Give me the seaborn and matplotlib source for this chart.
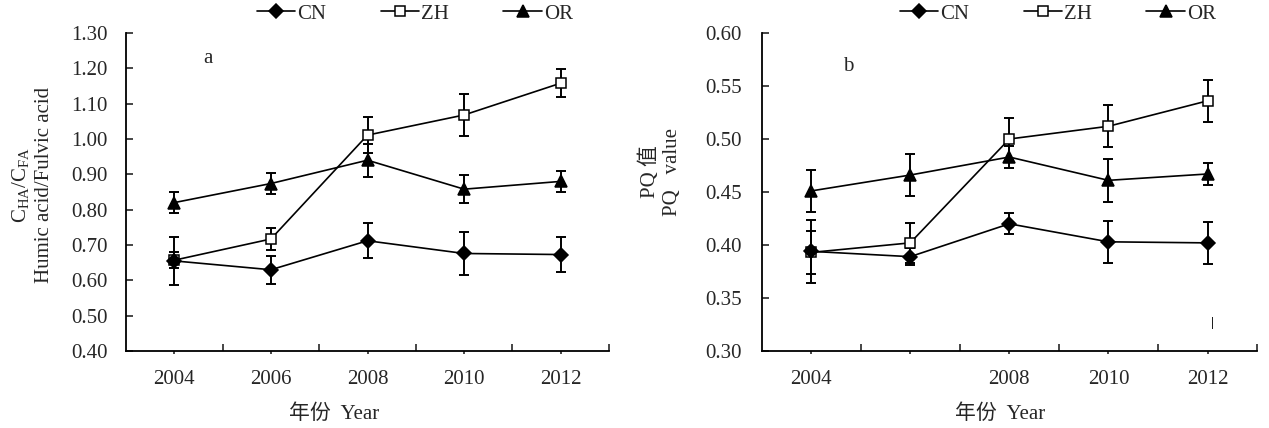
import matplotlib
matplotlib.use("Agg")
import matplotlib.pyplot as plt
import seaborn as sns
from matplotlib.ticker import FixedLocator, FormatStrFormatter

years = [2004, 2006, 2008, 2010, 2012]
series = ["CN", "ZH", "OR"]

# panel a: C_HA/C_FA
ratio_cn = [0.655, 0.630, 0.712, 0.676, 0.673]
ratio_cn_err = [0.068, 0.040, 0.050, 0.060, 0.050]
ratio_zh = [0.657, 0.717, 1.011, 1.068, 1.158]
ratio_zh_err = [0.022, 0.030, 0.050, 0.060, 0.039]
ratio_or = [0.820, 0.874, 0.940, 0.858, 0.880]
ratio_or_err = [0.030, 0.030, 0.047, 0.040, 0.029]

# panel b: PQ value
pq_cn = [0.394, 0.389, 0.420, 0.403, 0.402]
pq_cn_err = [0.030, 0.008, 0.010, 0.020, 0.020]
pq_zh = [0.393, 0.402, 0.500, 0.512, 0.536]
pq_zh_err = [0.020, 0.019, 0.020, 0.020, 0.020]
pq_or = [0.451, 0.466, 0.483, 0.461, 0.467]
pq_or_err = [0.020, 0.020, 0.010, 0.020, 0.010]

sns.set_style("ticks")
plt.rcParams["font.family"] = ["Liberation Serif", "Noto Sans CJK SC"]
plt.rcParams["mathtext.fontset"] = "custom"
plt.rcParams["mathtext.rm"] = "Liberation Serif"
plt.rcParams["font.size"] = 15
fs = 15

styles = {
    "CN": dict(marker="D", markersize=7, markerfacecolor="black", zorder=4),
    "ZH": dict(marker="s", markersize=7, markerfacecolor="white", zorder=3),
    "OR": dict(marker="^", markersize=8.5, markerfacecolor="black", zorder=3),
}

fig = plt.figure(figsize=(12.69, 4.28), dpi=100)
ax1 = fig.add_axes([0.0993, 0.1799, 0.3806, 0.743])
ax2 = fig.add_axes([0.6001, 0.1799, 0.3905, 0.743])


def draw(ax, vals, errs):
    for name, v, e in zip(series, vals, errs):
        st = styles[name]
        sns.lineplot(x=years, y=v, ax=ax, color="black", linewidth=1.2,
                     markeredgecolor="black", markeredgewidth=1.1, label=name, **st)
        ax.errorbar(years, v, yerr=e, fmt="none", ecolor="black",
                    elinewidth=1.4, capsize=3.6, capthick=1.4, zorder=2)
    ax.set_xlim(2003, 2013)
    ax.xaxis.set_major_locator(FixedLocator(years))
    ax.xaxis.set_minor_locator(FixedLocator([2005, 2007, 2009, 2011, 2013]))
    ax.tick_params(axis="x", which="major", direction="out", length=2.5,
                   width=1.2, pad=11, labelsize=fs)
    ax.tick_params(axis="x", which="minor", direction="in", length=5, width=1.2)
    ax.tick_params(axis="y", direction="in", length=5, width=1.2, labelsize=fs)
    ax.yaxis.set_major_formatter(FormatStrFormatter("%.2f"))
    sns.despine(ax=ax)
    for s in ["left", "bottom"]:
        ax.spines[s].set_linewidth(1.3)
        ax.spines[s].set_color("black")
    ax.legend(ncol=3, loc="center", bbox_to_anchor=(0.598, 1.06), frameon=False,
              handlelength=1.85, handletextpad=0.1, columnspacing=2.6,
              fontsize=fs, borderaxespad=0)


draw(ax1, [ratio_cn, ratio_zh, ratio_or], [ratio_cn_err, ratio_zh_err, ratio_or_err])
ax1.set_ylim(0.40, 1.30)
ax1.set_yticks([0.40, 0.50, 0.60, 0.70, 0.80, 0.90, 1.00, 1.10, 1.20, 1.30])
ax1.tick_params(axis="y", pad=13)
ax1.set_xlabel("年份  Year", fontsize=fs, va="center")
ax1.xaxis.set_label_coords(0.43, -0.20)
ax1.set_ylabel("$\\mathregular{C_{HA}/C_{FA}}$\nHumic acid/Fulvic acid",
               fontsize=fs, va="center", linespacing=1.25)
ax1.yaxis.set_label_coords(-0.195, 0.522)
ax1.text(0.17, 0.921, "a", transform=ax1.transAxes, fontsize=fs, ha="center", va="center")

draw(ax2, [pq_cn, pq_zh, pq_or], [pq_cn_err, pq_zh_err, pq_or_err])
ax2.set_ylim(0.30, 0.60)
ax2.set_yticks([0.30, 0.35, 0.40, 0.45, 0.50, 0.55, 0.60])
ax2.tick_params(axis="y", pad=14.5)
ax2.set_xticklabels(["2004", "", "2008", "2010", "2012"])
ax2.set_xlabel("年份  Year", fontsize=fs, va="center")
ax2.xaxis.set_label_coords(0.481, -0.20)
ax2.set_ylabel("PQ 值\nPQ   value", fontsize=fs, va="center", linespacing=1.25)
ax2.yaxis.set_label_coords(-0.203, 0.563)
ax2.text(0.175, 0.896, "b", transform=ax2.transAxes, fontsize=fs, ha="center", va="center")
ax2.text(2012.1, 0.326, "|", fontsize=9, fontweight="bold", color="black",
         ha="center", va="center")

fig.savefig("out.png", dpi=100)
